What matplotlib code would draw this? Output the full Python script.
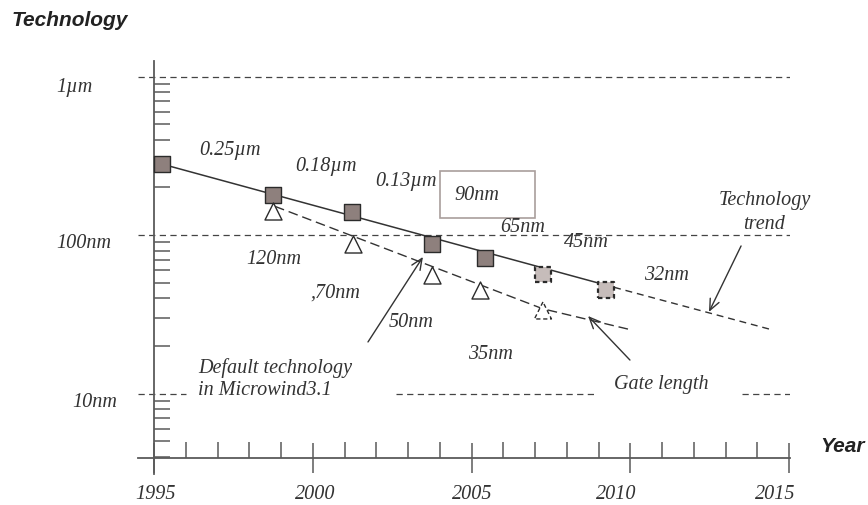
import matplotlib
matplotlib.use("Agg")
import matplotlib.pyplot as plt
from matplotlib.patches import Rectangle
from matplotlib.ticker import FixedLocator, LogLocator, NullFormatter, MultipleLocator
from matplotlib.transforms import ScaledTranslation

# technology nodes (square markers), last two are projections
node_years = [1995.25, 1998.75, 2001.24, 2003.76, 2005.43, 2007.25, 2009.24]
node_nm = [281, 178, 140, 88.6, 72.3, 56.5, 45.1]
node_projected = [False, False, False, False, False, True, True]

# gate length (triangle markers), last one projected
gate_years = [1998.75, 2001.27, 2003.76, 2005.27, 2007.25]
gate_nm = [142, 88.6, 56.1, 44.8, 33.5]
gate_projected = [False, False, False, False, True]

# trend curves
trend_years = [1995.25, 2009.49, 2014.46]
trend_nm = [281, 46.9, 25.3]
gate_trend_years = [1998.81, 2007.25, 2010.02]
gate_trend_nm = [152, 34.3, 25.3]

year_ticks = [1995, 2000, 2005, 2010, 2015]
year_labels = ["1995", "2000", "2005", "2010", "2015"]
level_values = [1000, 100, 10]
level_labels = ["1\u00b5m", "100nm", "10nm"]

INK = "#333333"
AXIS = "#5a5a5a"
NODE_FILL = "#8e807d"
NODE_FILL_PROJ = "#c6bcba"
SERIF = dict(family="Liberation Serif", style="italic", size=14.5, color=INK)

fig = plt.figure(figsize=(8.68, 5.06), dpi=100)
ax = fig.add_axes([138 / 868, 31 / 506, 652 / 868, 413 / 506])
ax.set_yscale("log")
ax.set_xlim(1994.496, 2015.031)
ax.set_ylim(3.113, 1256)

# nudge italic labels so the glyphs sit centred on their anchor
text_tr = ax.transData + ScaledTranslation(0, -0.027, fig.dpi_scale_trans)

# crossing axes
for side in ("top", "right"):
    ax.spines[side].set_visible(False)
ax.spines["left"].set_position(("data", 1995))
ax.spines["bottom"].set_position(("data", 3.928))
for side in ("left", "bottom"):
    ax.spines[side].set_color(AXIS)
    ax.spines[side].set_linewidth(1.3)

ax.xaxis.set_major_locator(FixedLocator(year_ticks))
ax.xaxis.set_minor_locator(MultipleLocator(1))
ax.set_xticklabels(year_labels, fontdict=dict(family="Liberation Serif", style="italic", size=14.5))
ax.tick_params(axis="x", which="major", direction="inout", length=22, width=1.1,
               color=AXIS, labelcolor=INK, pad=8)
ax.tick_params(axis="x", which="minor", direction="in", length=11.5, width=1.1, color=AXIS)
for lbl, dx in zip(ax.get_xticklabels(), [2, 2, 1, -14, -14]):
    lbl.set_transform(lbl.get_transform() + ScaledTranslation(dx / 100, 0, fig.dpi_scale_trans))

ax.yaxis.set_major_locator(FixedLocator(level_values))
ax.yaxis.set_major_formatter(NullFormatter())
ax.yaxis.set_minor_locator(LogLocator(base=10, subs=range(2, 10)))
ax.yaxis.set_minor_formatter(NullFormatter())
ax.tick_params(axis="y", which="major", length=0)
ax.tick_params(axis="y", which="minor", direction="in", length=11.5, width=1.1, color=AXIS)

# decade reference lines
grid_kw = dict(color="#444444", lw=0.9, linestyle=(0, (5, 3.5)), zorder=1)
ax.axhline(level_values[0], **grid_kw)
ax.axhline(level_values[1], **grid_kw)
ax.hlines([level_values[2]] * 3, [1994.496, 2002.62, 2013.52], [1996.01, 2008.95, 2015.031], **grid_kw)

label_pos = [(1992.48, 899), (1992.80, 93.3), (1993.14, 9.26)]
for (lx, ly), txt in zip(label_pos, level_labels):
    ax.text(lx, ly, txt, ha="center", va="center", clip_on=False, transform=text_tr, **SERIF)

# trend lines
ax.plot(trend_years[:2], trend_nm[:2], color=INK, lw=1.1, zorder=2)
ax.plot(trend_years[1:], trend_nm[1:], color=INK, lw=1.0, linestyle=(0, (5, 3.5)), zorder=2)
ax.plot(gate_trend_years, gate_trend_nm, color=INK, lw=1.0, linestyle=(0, (7, 3.5)), zorder=2)

# markers
for x, y, proj in zip(node_years, node_nm, node_projected):
    ax.scatter([x], [y], marker="s", s=130, zorder=4,
               facecolor=NODE_FILL_PROJ if proj else NODE_FILL, edgecolor="#2b2b2b",
               linewidths=1.6 if proj else 1.0,
               linestyle=(0, (2, 1.5)) if proj else "solid")
for x, y, proj in zip(gate_years, gate_nm, gate_projected):
    ax.scatter([x], [y], marker="^", s=150, zorder=4, facecolor="white",
               edgecolor="#2b2b2b", linewidths=1.0,
               linestyle=(0, (3, 2)) if proj else "solid")

# box around the 90nm node
ax.add_patch(Rectangle((2004.01, 128.4), 2.99, 254.1 - 128.4, facecolor="white",
                       edgecolor="#a99e9c", lw=1.2, zorder=2.5))

# node labels
node_text = [
    ("0.25\u00b5m", 1997.39, 360), ("0.18\u00b5m", 2000.42, 285), ("0.13\u00b5m", 2002.94, 229.6),
    ("90nm", 2005.17, 187.3),
    ("65nm", 2006.62, 117.7), ("45nm", 2008.61, 94.6), ("32nm", 2011.13, 58.6),
    ("120nm", 1998.78, 73.9), (",70nm", 2000.70, 45.8), ("50nm", 2003.09, 29.6),
    ("35nm", 2005.61, 18.6), ("Technology", 2014.24, 174.2), ("trend", 2014.21, 122.9),
    ("Gate length", 2010.97, 12.0),
]
for txt, x, y in node_text:
    ax.text(x, y, txt, ha="center", va="center", zorder=3, transform=text_tr, **SERIF)

ax.text(1996.39, 15.4, "Default technology", ha="left", va="center", transform=text_tr, **SERIF)
ax.text(1996.39, 11.0, "in Microwind3.1", ha="left", va="center", transform=text_tr, **SERIF)

arrow_kw = dict(arrowstyle="->,head_length=0.8,head_width=0.35", color=INK, lw=1.0,
                shrinkA=0, shrinkB=0)
ax.annotate("", xy=(2012.48, 32.8), xytext=(2013.49, 85.5), arrowprops=arrow_kw)
ax.annotate("", xy=(2003.47, 72.9), xytext=(2001.74, 21.2), arrowprops=arrow_kw)
ax.annotate("", xy=(2008.67, 30.9), xytext=(2009.99, 16.3), arrowprops=arrow_kw)

fig.text(12 / 868, 1 - 20 / 506, "Technology", ha="left", va="center", family="Liberation Sans",
         weight="bold", style="italic", size=15, color="#222222")
fig.text(820 / 868, 1 - 447 / 506, "Year", ha="left", va="center", family="Liberation Sans",
         weight="bold", style="italic", size=15, color="#222222")

fig.savefig("out.png", dpi=100)
